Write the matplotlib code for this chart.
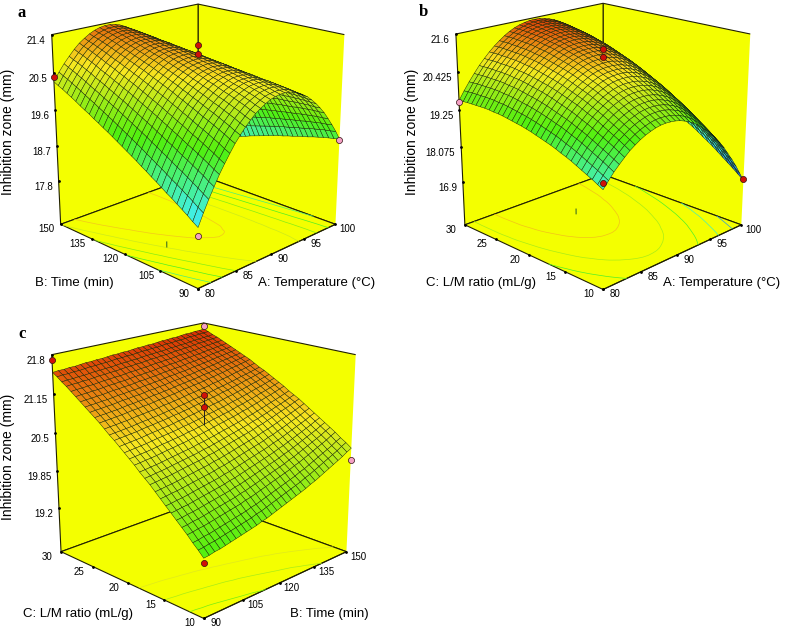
import numpy as np
import matplotlib

matplotlib.use("Agg")
import matplotlib.pyplot as plt
from matplotlib.colors import LinearSegmentedColormap
from mpl_toolkits.mplot3d import proj3d

plt.rcParams["font.family"] = ["Liberation Sans", "DejaVu Sans"]

# response values: z along the near and far edge of each
# surface (one value per mesh line) plus the bow of the cross direction.
# the full cell table was not read, the mesh is built from these edges.
a_near = [18.09, 18.37, 18.63, 18.87, 19.10, 19.30, 19.49, 19.67, 19.82, 19.96, 20.08,
          20.19, 20.27, 20.34, 20.40, 20.43, 20.45, 20.45, 20.43, 20.40, 20.34, 20.27,
          20.19, 20.08, 19.96, 19.82, 19.67, 19.49, 19.30, 19.10, 18.87]
a_far = [20.28, 20.48, 20.65, 20.80, 20.94, 21.06, 21.15, 21.23, 21.29, 21.33, 21.35,
         21.35, 21.33, 21.29, 21.23, 21.15, 21.06, 20.94, 20.80, 20.65, 20.48, 20.28,
         20.07, 19.84, 19.58, 19.31, 19.02, 18.71, 18.38, 18.04, 17.67]
a_bow = [0, .01, .03, .04, .05, .06, .06, .07, .08, .08, .09, .09, .10, .10, .10, .10,
         .10, .10, .10, .09, .09, .08, .08, .07, .06, .06, .05, .04, .03, .01, 0]

b_near = [18.42, 18.62, 18.81, 18.97, 19.12, 19.26, 19.37, 19.47, 19.55, 19.61, 19.66,
          19.69, 19.70, 19.69, 19.67, 19.63, 19.57, 19.50, 19.41, 19.30, 19.17, 19.03,
          18.87, 18.69, 18.50, 18.29, 18.05, 17.81, 17.55, 17.26, 16.97]
b_far = [19.55, 19.81, 20.05, 20.27, 20.48, 20.66, 20.83, 20.98, 21.11, 21.23, 21.33,
         21.41, 21.47, 21.51, 21.54, 21.55, 21.54, 21.51, 21.47, 21.41, 21.33, 21.23,
         21.11, 20.98, 20.83, 20.66, 20.48, 20.27, 20.05, 19.81, 19.55]
b_bow = [0, .05, .10, .14, .18, .22, .26, .29, .31, .34, .36, .37, .38, .39, .40, .40,
         .40, .39, .38, .37, .36, .34, .31, .29, .26, .22, .18, .14, .10, .05, 0]

c_near = [19.37, 19.38, 19.40, 19.41, 19.43, 19.45, 19.47, 19.49, 19.51, 19.53, 19.55,
          19.58, 19.60, 19.63, 19.66, 19.69, 19.72, 19.75, 19.78, 19.81, 19.84, 19.88,
          19.91, 19.95, 19.99, 20.03, 20.07, 20.11, 20.15, 20.20, 20.24]
c_far = [21.51, 21.52, 21.52, 21.53, 21.53, 21.54, 21.55, 21.55, 21.56, 21.56, 21.57,
         21.58, 21.58, 21.59, 21.59, 21.60, 21.61, 21.61, 21.62, 21.62, 21.63, 21.64,
         21.64, 21.65, 21.65, 21.66, 21.67, 21.67, 21.68, 21.68, 21.69]
c_bow = [0, .02, .03, .05, .06, .07, .08, .09, .10, .11, .12, .12, .12, .13, .13, .13,
         .13, .13, .12, .12, .12, .11, .10, .09, .08, .07, .06, .05, .03, .02, 0]

temp_ticks = [80, 85, 90, 95, 100]
time_ticks = [90, 105, 120, 135, 150]
ratio_ticks = [10, 15, 20, 25, 30]

a_zticks = [17.8, 18.7, 19.6, 20.5, 21.4]
a_zlabels = ["17.8", "18.7", "19.6", "20.5", "21.4"]
b_zticks = [16.9, 18.075, 19.25, 20.425, 21.6]
b_zlabels = ["16.9", "18.075", "19.25", "20.425", "21.6"]
c_zticks = [19.2, 19.85, 20.5, 21.15, 21.8]
c_zlabels = ["19.2", "19.85", "20.5", "21.15", "21.8"]

# design points: x, y, z
a_red = [(80, 150, 20.4), (90, 120, 21.15), (90, 120, 20.95)]
a_pink = [(100, 90, 18.85), (80, 90, 17.9)]
b_red = [(100, 10, 17.0), (80, 10, 18.6), (90, 20, 21.15), (90, 20, 20.9)]
b_pink = [(80, 30, 19.5)]
c_red = [(90, 30, 21.72), (90, 10, 19.3), (120, 20, 21.13), (120, 20, 20.93)]
c_pink = [(150, 30, 21.75), (150, 10, 20.04)]

a_levels = [18.75, 19.25, 19.75, 20.25, 20.75]
b_levels = [17.6, 18.4, 19.2, 20.0, 20.8]
c_levels = [19.6, 20, 20.4]

YELLOW = "#F4FF00"
FIG_W, FIG_H = 793, 632

response = LinearSegmentedColormap.from_list(
    "response", ["#1030d0", "#40f0e8", "#50f010", "#f8e820", "#d81800"]
)


def draw_panel(cx, cy, size, xticks, yticks, near, far, bow, zfloor, zticks, zlabels,
               levels, red, pink, stem, floor_mark):
    left = (cx - size / 2) / FIG_W
    bottom = 1 - (cy + size / 2) / FIG_H
    ax = fig.add_axes([left, bottom, size / FIG_W, size / FIG_H], projection="3d",
                      computed_zorder=False)
    ax.set_facecolor("none")
    ax.set_proj_type("persp", focal_length=0.57)
    ax.view_init(elev=19, azim=-135)
    ax.set_box_aspect((1, 1, 1.0))

    x = np.linspace(xticks[0], xticks[-1], len(near))
    y = np.linspace(yticks[0], yticks[-1], len(bow))
    X, Y = np.meshgrid(x, y)
    v = np.linspace(0, 1, len(bow))[:, None]
    Z = np.array(near) * (1 - v) + np.array(far) * v + np.array(bow)[:, None]

    ax.set_xlim(xticks[0], xticks[-1], view_margin=0)
    ax.set_ylim(yticks[0], yticks[-1], view_margin=0)
    ax.set_zlim(zfloor, zticks[-1], view_margin=0)

    ax.grid(False)
    ax.set_xticks([])
    ax.set_yticks([])
    ax.set_zticks([])
    for axis in (ax.xaxis, ax.yaxis, ax.zaxis):
        axis.set_pane_color(YELLOW)
        axis.pane.set_edgecolor("#202000")
        axis.pane.set_linewidth(0.8)
        axis.line.set_color("#202000")

    ax.contour(X, Y, Z, levels=levels, zdir="z", offset=zfloor, cmap=response,
               vmin=16.9, vmax=21.8, linewidths=0.5, zorder=1)
    ax.plot([floor_mark[0]] * 2, [floor_mark[1]] * 2,
            [zfloor, zfloor + 0.08 * (zticks[-1] - zfloor) / 3], color="#407020", lw=0.8, zorder=1)

    colors = response((Z - 16.9) / (21.8 - 16.9))
    ax.plot_surface(X, Y, Z, rstride=1, cstride=1, facecolors=colors, edgecolor="#102010",
                    linewidth=0.32, shade=False, zorder=2)

    if stem is not None:
        ax.plot([stem[0]] * 2, [stem[1]] * 2, stem[2:], color="#202020", lw=0.7, zorder=3)
    for pts, col in ((red, "#D01008"), (pink, "#F4A0C4")):
        px, py, pz = zip(*pts)
        ax.plot(px, py, pz, ls="", marker="o", ms=4.4, mfc=col, mec="#301010", mew=0.5, zorder=4)

    # tick marks and labels
    x0, x1 = xticks[0], xticks[-1]
    y0, y1 = yticks[0], yticks[-1]
    ax.plot(xticks, [y0] * 5, [zfloor] * 5, ls="", marker=".", ms=2, color="k", zorder=1)
    ax.plot([x0] * 5, yticks, [zfloor] * 5, ls="", marker=".", ms=2, color="k", zorder=1)
    ax.plot([x0] * 5, [y1] * 5, zticks, ls="", marker=".", ms=2, color="k", zorder=1)
    M = ax.get_proj()
    for t in xticks:
        px, py, _ = proj3d.proj_transform(t, y0, zfloor, M)
        ax.annotate(str(t), (px, py), xytext=(12, -5), textcoords="offset pixels", ha="center",
                    va="center", fontsize=7, annotation_clip=False)
    for t in yticks:
        px, py, _ = proj3d.proj_transform(x0, t, zfloor, M)
        ax.annotate(str(t), (px, py), xytext=(-14, -5), textcoords="offset pixels", ha="center",
                    va="center", fontsize=7, annotation_clip=False)
    for t, lab in zip(zticks, zlabels):
        px, py, _ = proj3d.proj_transform(x0, y1, t, M)
        ax.annotate(lab, (px, py), xytext=(-6, -6), textcoords="offset pixels", ha="right",
                    va="center", fontsize=7, annotation_clip=False)
    return ax


def put_text(px, py, text, **kw):
    fig.text(px / FIG_W, 1 - py / FIG_H, text, ha="center", va="center", **kw)


fig = plt.figure(figsize=(FIG_W / 100, FIG_H / 100), dpi=100)

draw_panel(193.5, 137, 337, temp_ticks, time_ticks, a_near, a_far, a_bow, 16.67,
           a_zticks, a_zlabels, a_levels, a_red, a_pink, None, (84, 115))
draw_panel(598.5, 137, 339, temp_ticks, ratio_ticks, b_near, b_far, b_bow, 15.47,
           b_zticks, b_zlabels, b_levels, b_red, b_pink, None, (90, 24))
draw_panel(199, 461, 350, time_ticks, ratio_ticks, c_near, c_far, c_bow, 18.4,
           c_zticks, c_zlabels, c_levels, c_red, c_pink, (120, 20, 20.65, 21.13), (120, 20))

ylab = dict(fontsize=10, rotation=90)
xlab = dict(fontsize=9.5)
letter = dict(fontsize=12, fontweight="bold", family="Liberation Serif")

put_text(8, 132, "Inhibition zone (mm)", **ylab)
put_text(74, 283, "B: Time (min)", **xlab)
put_text(317, 283, "A: Temperature (°C)", **xlab)
put_text(22, 13, "a", **letter)

put_text(412, 132, "Inhibition zone (mm)", **ylab)
put_text(481, 283, "C: L/M ratio (mL/g)", **xlab)
put_text(722, 283, "A: Temperature (°C)", **xlab)
put_text(423, 12, "b", **letter)

put_text(8, 457, "Inhibition zone (mm)", **ylab)
put_text(78, 614, "C: L/M ratio (mL/g)", **xlab)
put_text(329, 614, "B: Time (min)", **xlab)
put_text(22, 334, "c", **letter)

plt.savefig("out.png", dpi=100)
